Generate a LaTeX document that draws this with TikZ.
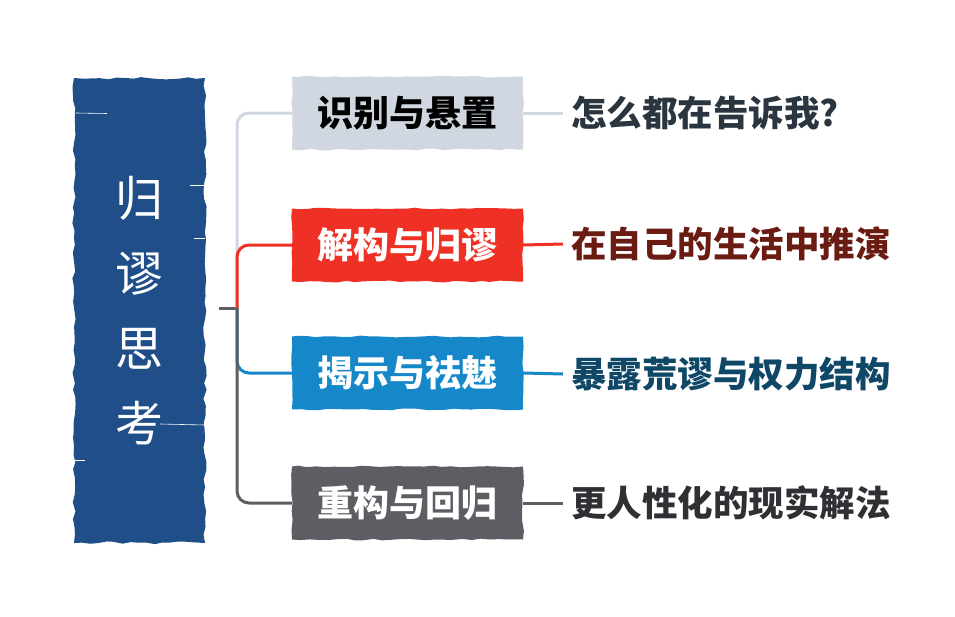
\documentclass[tikz,border=0pt]{standalone}
\usepackage{fontspec}
\newfontfamily\cjk{Noto Sans CJK SC}
\newfontfamily\cjkheavy{Noto Sans CJK SC Black}
\usetikzlibrary{decorations.pathmorphing}
\definecolor{rootblue}{HTML}{1F4E89}
\definecolor{lgray}{HTML}{D1D7E0}
\definecolor{tred}{HTML}{EE3124}
\definecolor{tblue}{HTML}{1688C9}
\definecolor{tgray}{HTML}{5D5E63}
\definecolor{txtA}{HTML}{2B3540}
\definecolor{txtB}{HTML}{6A1B12}
\definecolor{txtC}{HTML}{0F4767}
\definecolor{txtD}{HTML}{2F3033}
\begin{document}
\begin{tikzpicture}[x=1pt,y=-1pt,
  brush/.style={decorate, decoration={random steps, segment length=9pt, amplitude=0.9pt}},
  topic/.style={brush, minimum width=231pt, minimum height=73pt, inner sep=0pt,
    font=\cjkheavy\fontsize{36}{36}\selectfont},
  leaf/.style={anchor=west, inner sep=8pt, font=\cjk\bfseries\fontsize{35.5}{35.5}\selectfont},
  link/.style={line width=3pt, rounded corners=12pt},
  scratch/.style={white, line width=0.6pt}
]
\pgfmathsetseed{7}
\useasboundingbox (0,0) rectangle (955,616);

% root
\node[brush, decoration={random steps, segment length=8pt, amplitude=1.6pt},
  fill=rootblue, minimum width=131pt, minimum height=465pt, inner sep=0pt,
  text=white, align=center, font=\cjk\fontsize{48}{75}\selectfont]
  (root) at (139.5,310.5) {归\\谬\\思\\考};
\draw[scratch] (76,113) -- (107,113.5);
\draw[scratch] (190,185) -- (205,185);
\draw[scratch] (194,238) -- (205,238);
\draw[scratch] (160,424) -- (205,425);
\draw[scratch] (75,460) -- (85,460);

% topics
\node[topic, fill=lgray, text=black] (t1) at (407.5,113) {识别与悬置};
\node[topic, fill=tred, text=white] (t2) at (407.5,245) {解构与归谬};
\node[topic, fill=tblue, text=white] (t3) at (407.5,373) {揭示与祛魅};
\node[topic, fill=tgray, text=white] (t4) at (407.5,503) {重构与回归};

% leaves
\node[leaf, text=txtA] (l1) at (563,113) {怎么都在告诉我?};
\node[leaf, text=txtB] (l2) at (563,244) {在自己的生活中推演};
\node[leaf, text=txtC] (l3) at (563,374) {暴露荒谬与权力结构};
\node[leaf, text=txtD] (l4) at (563,503) {更人性化的现实解法};

% connectors
\coordinate (S) at (219,308);
\coordinate (J) at (237,308);
\draw[link, tgray] (S) -- (J);
\draw[link, lgray] (J) |- (t1.west);
\draw[link, tred] (J) |- (t2.west);
\draw[link, tblue] (J) |- (t3.west);
\draw[link, tgray] (J) |- (t4.west);

\draw[link, lgray] (t1.east) -- (l1.west);
\draw[link, tred] (t2.east) -- (l2.west);
\draw[link, tblue] (t3.east) -- (l3.west);
\draw[link, tgray] (t4.east) -- (l4.west);
\end{tikzpicture}
\end{document}
